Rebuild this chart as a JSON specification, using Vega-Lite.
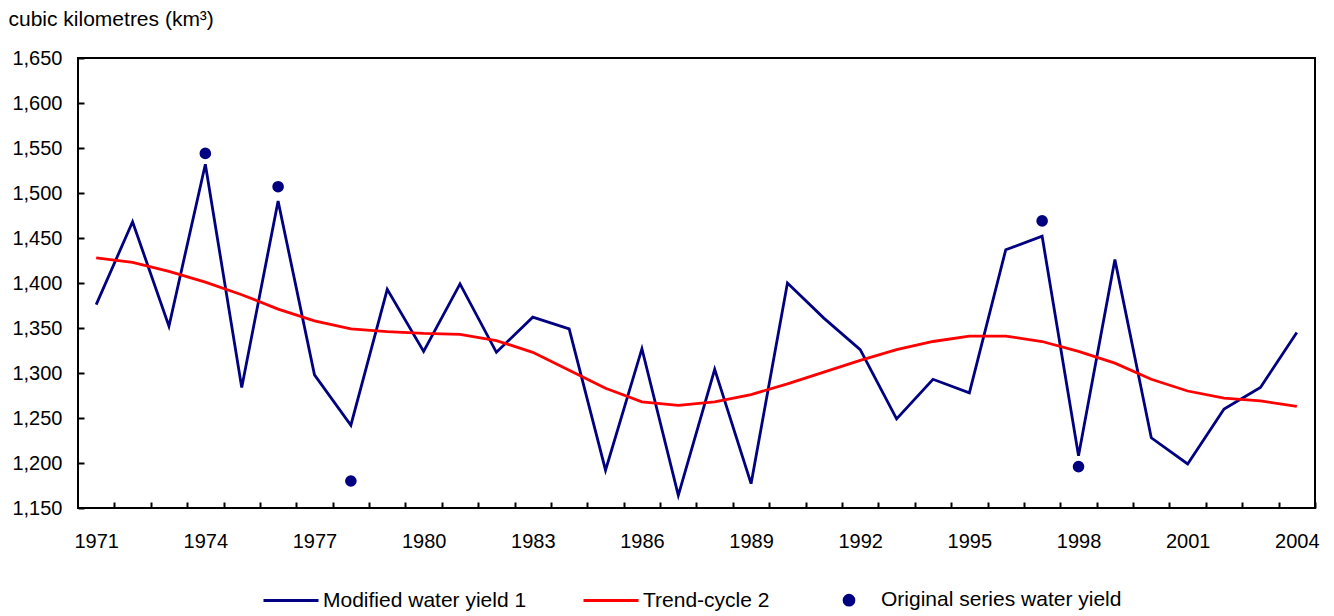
{
  "$schema": "https://vega.github.io/schema/vega-lite/v6.json",
  "autosize": {"type": "none"},
  "width": 1237,
  "height": 450,
  "padding": {"left": 78, "top": 58, "right": 19, "bottom": 108},
  "background": "white",
  "config": {
    "font": "Liberation Sans",
    "view": {"stroke": "black", "strokeWidth": 2},
    "axis": {"grid": false, "domain": false, "labelColor": "black", "labelFontSize": 20, "labelFont": "Liberation Sans", "tickColor": "black", "tickWidth": 2}
  },
  "datasets": {
    "series": [
      {"year": 1971, "series": "Modified water yield 1", "value": 1376},
      {"year": 1972, "series": "Modified water yield 1", "value": 1468},
      {"year": 1973, "series": "Modified water yield 1", "value": 1352},
      {"year": 1974, "series": "Modified water yield 1", "value": 1532},
      {"year": 1975, "series": "Modified water yield 1", "value": 1284},
      {"year": 1976, "series": "Modified water yield 1", "value": 1491},
      {"year": 1977, "series": "Modified water yield 1", "value": 1298},
      {"year": 1978, "series": "Modified water yield 1", "value": 1242},
      {"year": 1979, "series": "Modified water yield 1", "value": 1393},
      {"year": 1980, "series": "Modified water yield 1", "value": 1324},
      {"year": 1981, "series": "Modified water yield 1", "value": 1399},
      {"year": 1982, "series": "Modified water yield 1", "value": 1323},
      {"year": 1983, "series": "Modified water yield 1", "value": 1362},
      {"year": 1984, "series": "Modified water yield 1", "value": 1349},
      {"year": 1985, "series": "Modified water yield 1", "value": 1192},
      {"year": 1986, "series": "Modified water yield 1", "value": 1327},
      {"year": 1987, "series": "Modified water yield 1", "value": 1164},
      {"year": 1988, "series": "Modified water yield 1", "value": 1304},
      {"year": 1989, "series": "Modified water yield 1", "value": 1177},
      {"year": 1990, "series": "Modified water yield 1", "value": 1400},
      {"year": 1991, "series": "Modified water yield 1", "value": 1361},
      {"year": 1992, "series": "Modified water yield 1", "value": 1326},
      {"year": 1993, "series": "Modified water yield 1", "value": 1249},
      {"year": 1994, "series": "Modified water yield 1", "value": 1293},
      {"year": 1995, "series": "Modified water yield 1", "value": 1278},
      {"year": 1996, "series": "Modified water yield 1", "value": 1437},
      {"year": 1997, "series": "Modified water yield 1", "value": 1452},
      {"year": 1998, "series": "Modified water yield 1", "value": 1208},
      {"year": 1999, "series": "Modified water yield 1", "value": 1426},
      {"year": 2000, "series": "Modified water yield 1", "value": 1228},
      {"year": 2001, "series": "Modified water yield 1", "value": 1199},
      {"year": 2002, "series": "Modified water yield 1", "value": 1260},
      {"year": 2003, "series": "Modified water yield 1", "value": 1284},
      {"year": 2004, "series": "Modified water yield 1", "value": 1345},
      {"year": 1971, "series": "Trend-cycle 2", "value": 1428},
      {"year": 1972, "series": "Trend-cycle 2", "value": 1423},
      {"year": 1973, "series": "Trend-cycle 2", "value": 1413},
      {"year": 1974, "series": "Trend-cycle 2", "value": 1401},
      {"year": 1975, "series": "Trend-cycle 2", "value": 1387},
      {"year": 1976, "series": "Trend-cycle 2", "value": 1371},
      {"year": 1977, "series": "Trend-cycle 2", "value": 1358},
      {"year": 1978, "series": "Trend-cycle 2", "value": 1349},
      {"year": 1979, "series": "Trend-cycle 2", "value": 1346},
      {"year": 1980, "series": "Trend-cycle 2", "value": 1344},
      {"year": 1981, "series": "Trend-cycle 2", "value": 1343},
      {"year": 1982, "series": "Trend-cycle 2", "value": 1336},
      {"year": 1983, "series": "Trend-cycle 2", "value": 1323},
      {"year": 1984, "series": "Trend-cycle 2", "value": 1303},
      {"year": 1985, "series": "Trend-cycle 2", "value": 1283},
      {"year": 1986, "series": "Trend-cycle 2", "value": 1268},
      {"year": 1987, "series": "Trend-cycle 2", "value": 1264},
      {"year": 1988, "series": "Trend-cycle 2", "value": 1268},
      {"year": 1989, "series": "Trend-cycle 2", "value": 1276},
      {"year": 1990, "series": "Trend-cycle 2", "value": 1288},
      {"year": 1991, "series": "Trend-cycle 2", "value": 1301},
      {"year": 1992, "series": "Trend-cycle 2", "value": 1314},
      {"year": 1993, "series": "Trend-cycle 2", "value": 1326},
      {"year": 1994, "series": "Trend-cycle 2", "value": 1335},
      {"year": 1995, "series": "Trend-cycle 2", "value": 1341},
      {"year": 1996, "series": "Trend-cycle 2", "value": 1341},
      {"year": 1997, "series": "Trend-cycle 2", "value": 1335},
      {"year": 1998, "series": "Trend-cycle 2", "value": 1324},
      {"year": 1999, "series": "Trend-cycle 2", "value": 1311},
      {"year": 2000, "series": "Trend-cycle 2", "value": 1293},
      {"year": 2001, "series": "Trend-cycle 2", "value": 1280},
      {"year": 2002, "series": "Trend-cycle 2", "value": 1272},
      {"year": 2003, "series": "Trend-cycle 2", "value": 1269},
      {"year": 2004, "series": "Trend-cycle 2", "value": 1263}
    ],
    "original": [
      {"year": 1974, "series": "Original series water yield", "value": 1544},
      {"year": 1976, "series": "Original series water yield", "value": 1507},
      {"year": 1978, "series": "Original series water yield", "value": 1180},
      {"year": 1997, "series": "Original series water yield", "value": 1469},
      {"year": 1998, "series": "Original series water yield", "value": 1196}
    ]
  },
  "encoding": {
    "x": {
      "field": "year", "type": "quantitative",
      "scale": {"domain": [1970.5, 2004.5], "nice": false, "zero": false},
      "axis": {
        "title": null,
        "values": [1971,1972,1973,1974,1975,1976,1977,1978,1979,1980,1981,1982,1983,1984,1985,1986,1987,1988,1989,1990,1991,1992,1993,1994,1995,1996,1997,1998,1999,2000,2001,2002,2003,2004],
        "labelExpr": "(datum.value - 1971) % 3 === 0 ? '' + datum.value : ''",
        "labelOverlap": false,
        "labelFlush": false,
        "tickSize": -6,
        "tickOffset": 18.19,
        "labelOffset": -18.19,
        "labelPadding": 45,
        "labelBaseline": "alphabetic"
      }
    },
    "y": {
      "field": "value", "type": "quantitative",
      "scale": {"domain": [1150, 1650], "nice": false, "zero": false},
      "axis": {
        "title": "cubic kilometres (km³)",
        "titleAngle": 0,
        "titleAlign": "left",
        "titleBaseline": "alphabetic",
        "titleX": -70,
        "titleY": -33,
        "titleFontSize": 21,
        "titleFontWeight": "normal",
        "titleFont": "Liberation Sans",
        "titleColor": "black",
        "values": [1150,1200,1250,1300,1350,1400,1450,1500,1550,1600,1650],
        "format": ",d",
        "tickSize": -6,
        "labelPadding": 22,
        "labelFlush": false
      }
    },
    "color": {
      "field": "series", "type": "nominal",
      "scale": {
        "domain": ["Modified water yield 1", "Trend-cycle 2", "Original series water yield"],
        "range": ["#000080", "#FF0000", "#000080"]
      },
      "legend": {
        "title": null,
        "orient": "none",
        "direction": "horizontal",
        "legendX": 184,
        "legendY": 513,
        "columnPadding": 50,
        "labelFontSize": 21,
        "labelFont": "Liberation Sans",
        "labelColor": "black",
        "labelOffset": 3,
        "labelLimit": 400,
        "symbolSize": 3025,
        "symbolType": "stroke",
        "symbolStrokeWidth": 2.8,
        "encode": {
          "symbols": {
            "update": {
              "shape": {"signal": "datum.value === 'Original series water yield' ? 'M0.18,0A0.18,0.18,0,1,1,-0.18,0A0.18,0.18,0,1,1,0.18,0Z' : 'M-1,0L1,0'"},
              "fill": {"scale": "color", "field": "value"},
              "stroke": {"scale": "color", "field": "value"},
              "strokeWidth": {"value": 2.8},
              "opacity": {"value": 1}
            }
          }
        }
      }
    }
  },
  "layer": [
    {
      "data": {"name": "series"},
      "mark": {"type": "line", "strokeWidth": 2.8},
      "encoding": {"detail": {"field": "series"}}
    },
    {
      "data": {"name": "original"},
      "mark": {"type": "point", "filled": true, "shape": "circle", "size": 135, "opacity": 1}
    }
  ]
}
